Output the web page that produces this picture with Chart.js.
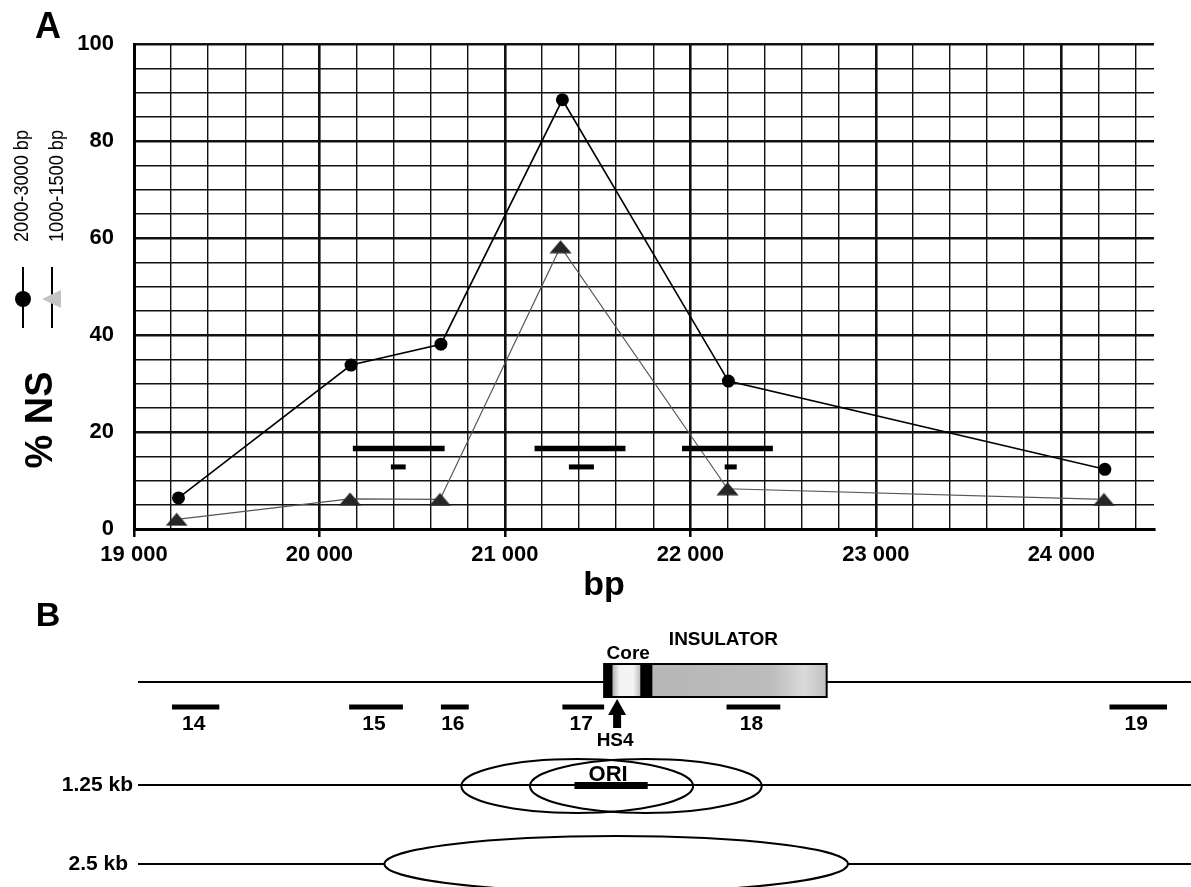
<!DOCTYPE html>
<html>
<head>
<meta charset="utf-8">
<title>% NS</title>
<script src="https://cdn.jsdelivr.net/npm/chart.js@4.4.1/dist/chart.umd.min.js"></script>
<style>
  html, body { margin: 0; padding: 0; background: #fff; }
  #chartBox { width: 1191px; height: 887px; }
</style>
</head>
<body>
<div id="chartBox"><canvas id="nsChart" width="1191" height="887"></canvas></div>
<script>
// --- 1. DATA (panel A) ---
const seriesLabels = ["2000-3000 bp", "1000-1500 bp"];
const xLarge = [19240, 20170, 20655, 21310, 22205, 24235];   // 2000-3000 bp
const yLarge = [6.4, 33.8, 38.1, 88.5, 30.5, 12.3];
const xSmall = [19230, 20165, 20650, 21300, 22200, 24230];   // 1000-1500 bp
const ySmall = [2.0, 6.2, 6.1, 58.2, 8.3, 6.1];

// horizontal marks under the curves
const longBarStart = [20180, 21160, 21955];
const longBarEnd = [20675, 21650, 22445];
const longBarLevel = 16.6;
const shortBarStart = [20385, 21345, 22185];
const shortBarEnd = [20465, 21480, 22250];
const shortBarLevel = 12.8;

// axes
const xRange = [19000, 24500];
const xMajorTicks = [19000, 20000, 21000, 22000, 23000, 24000];
const xMinorStep = 200;
const yRange = [0, 100];
const yMajorTicks = [0, 20, 40, 60, 80, 100];
const yMinorStep = 5;

// --- 2. DATA (panel B, positions in bp) ---
const fragmentNames = ["14", "15", "16", "17", "18", "19"];
const fragmentStart = [19205, 20160, 20655, 21310, 22195, 24260];
const fragmentEnd = [19460, 20450, 20805, 21535, 22485, 24570];
const insulatorSpan = [21535, 22735];
const coreSpan = [21580, 21730];
const coreEdges = [[21535, 21580], [21730, 21795]];
const hs4Site = 21605;
const oriSpan = [21375, 21770];
const bubbleCenters125 = [21390, 21760];
const bubbleWidth125 = 1250;
const bubbleCenter25 = 21600;
const bubbleWidth25 = 2500;

const FONT = '"Liberation Sans", Arial, Helvetica, sans-serif';
const INK = "#000";

function spaced(v) {
    return String(v).replace(/\B(?=(\d{3})+(?!\d))/g, " ");
}

// flat dark triangle used as the point marker of the 1000-1500 bp series
function triangleMarker(w, h, fill) {
    const c = document.createElement("canvas");
    c.width = w; c.height = h;
    const g = c.getContext("2d");
    g.fillStyle = fill;
    g.beginPath();
    g.moveTo(0.5, h - 0.5);
    g.lineTo(w / 2, 0.5);
    g.lineTo(w - 0.5, h - 0.5);
    g.closePath();
    g.fill();
    return c;
}
const triImg = triangleMarker(23, 14, "#262626");

// --- 3. DATASETS ---
const datasets = [];
longBarStart.forEach((s, i) => {
    datasets.push({
        data: [{ x: s, y: longBarLevel }, { x: longBarEnd[i], y: longBarLevel }],
        borderColor: INK, borderWidth: 5.5, borderCapStyle: "butt", pointRadius: 0
    });
});
shortBarStart.forEach((s, i) => {
    datasets.push({
        data: [{ x: s, y: shortBarLevel }, { x: shortBarEnd[i], y: shortBarLevel }],
        borderColor: INK, borderWidth: 5, borderCapStyle: "butt", pointRadius: 0
    });
});
datasets.push({
    label: seriesLabels[1],
    data: xSmall.map((x, i) => ({ x: x, y: ySmall[i] })),
    borderColor: "#555", borderWidth: 1.2,
    pointStyle: triImg, pointRadius: 8
});
datasets.push({
    label: seriesLabels[0],
    data: xLarge.map((x, i) => ({ x: x, y: yLarge[i] })),
    borderColor: INK, borderWidth: 1.6,
    pointStyle: "circle", pointRadius: 6.5, pointBackgroundColor: INK, pointBorderWidth: 0
});

// --- 4. TEXT, LEGEND AND PANEL B ---
const decorations = {
    id: "decorations",
    afterDraw(chart) {
        const ctx = chart.ctx;
        const xs = chart.scales.x;
        const px = v => xs.getPixelForValue(v);
        const W = chart.width;
        ctx.save();
        ctx.fillStyle = INK;
        ctx.strokeStyle = INK;

        // panel letters
        ctx.textAlign = "center";
        ctx.textBaseline = "alphabetic";
        ctx.font = "bold 36px " + FONT;
        ctx.fillText("A", 48, 38);
        ctx.font = "bold 34px " + FONT;
        ctx.fillText("B", 48, 626);

        // axis titles
        ctx.font = "bold 34px " + FONT;
        ctx.fillText("bp", 604, 595);
        ctx.save();
        ctx.translate(52, 420);
        ctx.rotate(-Math.PI / 2);
        ctx.font = "bold 38px " + FONT;
        ctx.fillText("% NS", 0, 0);
        ctx.restore();

        // rotated legend
        const large = chart.data.datasets.find(d => d.label === seriesLabels[0]);
        const small = chart.data.datasets.find(d => d.label === seriesLabels[1]);
        ctx.font = "20px " + FONT;
        [[large, 28], [small, 63]].forEach(([d, bx]) => {
            ctx.save();
            ctx.translate(bx, 186);
            ctx.rotate(-Math.PI / 2);
            ctx.fillText(d.label, 0, 0, 112);
            ctx.restore();
        });
        ctx.lineWidth = 2;
        [23, 52].forEach(lx => {
            ctx.beginPath(); ctx.moveTo(lx, 267); ctx.lineTo(lx, 328); ctx.stroke();
        });
        ctx.beginPath(); ctx.arc(23, 299, 8, 0, Math.PI * 2); ctx.fill();
        ctx.fillStyle = "#c4c4c4";
        ctx.beginPath(); ctx.moveTo(42, 299); ctx.lineTo(61, 290); ctx.lineTo(61, 308); ctx.closePath(); ctx.fill();
        ctx.fillStyle = INK;

        // ---- panel B ----
        const rowTop = 682, boxTop = 664, boxBottom = 697, fragY = 707;
        const row125 = 785, row25 = 864, lineStart = 138;
        const iL = px(insulatorSpan[0]), iR = px(insulatorSpan[1]);

        // backbone line
        ctx.lineWidth = 2;
        ctx.beginPath();
        ctx.moveTo(lineStart, rowTop); ctx.lineTo(iL, rowTop);
        ctx.moveTo(iR, rowTop); ctx.lineTo(W, rowTop);
        ctx.stroke();

        // insulator box
        const gBody = ctx.createLinearGradient(iL, 0, iR, 0);
        gBody.addColorStop(0, "#b4b4b4");
        gBody.addColorStop(0.75, "#bcbcbc");
        gBody.addColorStop(0.9, "#dadada");
        gBody.addColorStop(1, "#c0c0c0");
        ctx.fillStyle = gBody;
        ctx.fillRect(iL, boxTop, iR - iL, boxBottom - boxTop);
        const cL = px(coreSpan[0]), cR = px(coreSpan[1]);
        const gCore = ctx.createLinearGradient(cL, 0, cR, 0);
        gCore.addColorStop(0, "#b0b0b0");
        gCore.addColorStop(0.25, "#f2f2f2");
        gCore.addColorStop(0.75, "#f5f5f5");
        gCore.addColorStop(1, "#bdbdbd");
        ctx.fillStyle = gCore;
        ctx.fillRect(cL, boxTop, cR - cL, boxBottom - boxTop);
        ctx.fillStyle = INK;
        coreEdges.forEach(([a, b]) => ctx.fillRect(px(a), boxTop, px(b) - px(a), boxBottom - boxTop));
        ctx.lineWidth = 2;
        ctx.strokeRect(iL, boxTop, iR - iL, boxBottom - boxTop);

        ctx.font = "bold 19px " + FONT;
        ctx.textBaseline = "middle";
        ctx.fillText("Core", px((coreEdges[0][0] + coreEdges[1][1]) / 2), 654);
        ctx.fillText("INSULATOR", px((insulatorSpan[0] + insulatorSpan[1]) / 2) + 8, 640);

        // fragments
        ctx.font = "bold 21px " + FONT;
        fragmentNames.forEach((name, i) => {
            const a = px(fragmentStart[i]), b = px(fragmentEnd[i]);
            ctx.fillRect(a, fragY - 2.5, b - a, 5);
            ctx.fillText(name, (a + b) / 2 - 2, 724);
        });

        // HS4 arrow
        const hx = px(hs4Site);
        ctx.beginPath();
        ctx.moveTo(hx, 699);
        ctx.lineTo(hx - 9, 715);
        ctx.lineTo(hx - 4, 715);
        ctx.lineTo(hx - 4, 728);
        ctx.lineTo(hx + 4, 728);
        ctx.lineTo(hx + 4, 715);
        ctx.lineTo(hx + 9, 715);
        ctx.closePath();
        ctx.fill();
        ctx.font = "bold 19px " + FONT;
        ctx.fillText("HS4", hx - 2, 741);

        // row labels
        ctx.textAlign = "right";
        ctx.font = "bold 21px " + FONT;
        ctx.fillText("1.25 kb", 133, row125);
        ctx.fillText("2.5 kb", 128, row25);
        ctx.textAlign = "center";

        // 1.25 kb row
        ctx.lineWidth = 2;
        ctx.beginPath(); ctx.moveTo(lineStart, row125); ctx.lineTo(W, row125); ctx.stroke();
        const oL = px(oriSpan[0]), oR = px(oriSpan[1]);
        ctx.fillRect(oL, row125 - 3, oR - oL, 7);
        ctx.font = "bold 22px " + FONT;
        ctx.fillText("ORI", (oL + oR) / 2 - 3, 775);
        const half125 = (px(bubbleWidth125) - px(0)) / 2;
        bubbleCenters125.forEach(c => {
            ctx.beginPath();
            ctx.ellipse(px(c), row125 + 1, half125, 27, 0, 0, Math.PI * 2);
            ctx.stroke();
        });

        // 2.5 kb row
        const half25 = (px(bubbleWidth25) - px(0)) / 2;
        const c25 = px(bubbleCenter25);
        ctx.beginPath();
        ctx.moveTo(lineStart, row25); ctx.lineTo(c25 - half25, row25);
        ctx.moveTo(c25 + half25, row25); ctx.lineTo(W, row25);
        ctx.stroke();
        ctx.beginPath();
        ctx.ellipse(c25, row25, half25, 28, 0, 0, Math.PI * 2);
        ctx.stroke();

        ctx.restore();
    }
};

// --- 5. CHART ---
const isMajorX = c => c.tick && xMajorTicks.includes(c.tick.value);
const isMajorY = c => c.tick && yMajorTicks.includes(c.tick.value);

new Chart(document.getElementById("nsChart"), {
    type: "line",
    data: { datasets: datasets },
    options: {
        responsive: false,
        animation: false,
        devicePixelRatio: 1,
        layout: { padding: { left: 0, top: 44, right: 37, bottom: 318 } },
        plugins: { legend: { display: false }, tooltip: { enabled: false }, title: { display: false } },
        elements: { line: { tension: 0 } },
        scales: {
            x: {
                type: "linear",
                min: xRange[0], max: xRange[1],
                afterBuildTicks: axis => {
                    const t = [];
                    for (let v = xRange[0]; v < xRange[1]; v += xMinorStep) t.push({ value: v });
                    axis.ticks = t;
                },
                afterFit: s => { s.height = 40; },
                ticks: {
                    autoSkip: false, maxRotation: 0, minRotation: 0, padding: 5,
                    color: INK, font: { family: FONT, size: 22, weight: "bold" },
                    callback: v => xMajorTicks.includes(v) ? spaced(v) : ""
                },
                grid: {
                    color: "#111",
                    lineWidth: c => isMajorX(c) ? 2.6 : 1.4,
                    drawTicks: true, tickLength: 8, tickWidth: 2.5,
                    tickColor: c => isMajorX(c) ? INK : "rgba(0,0,0,0)"
                },
                border: { display: true, color: INK, width: 3 }
            },
            y: {
                min: yRange[0], max: yRange[1],
                afterBuildTicks: axis => {
                    const t = [];
                    for (let v = yRange[0]; v <= yRange[1]; v += yMinorStep) t.push({ value: v });
                    axis.ticks = t;
                },
                afterFit: s => { s.width = 134; },
                ticks: {
                    autoSkip: false, padding: 20,
                    color: INK, font: { family: FONT, size: 22, weight: "bold" },
                    callback: v => yMajorTicks.includes(v) ? String(v) : ""
                },
                grid: {
                    color: "#111",
                    lineWidth: c => isMajorY(c) ? 2.6 : 1.4,
                    drawTicks: false
                },
                border: { display: true, color: INK, width: 3 }
            }
        }
    },
    plugins: [decorations]
});
</script>
</body>
</html>
